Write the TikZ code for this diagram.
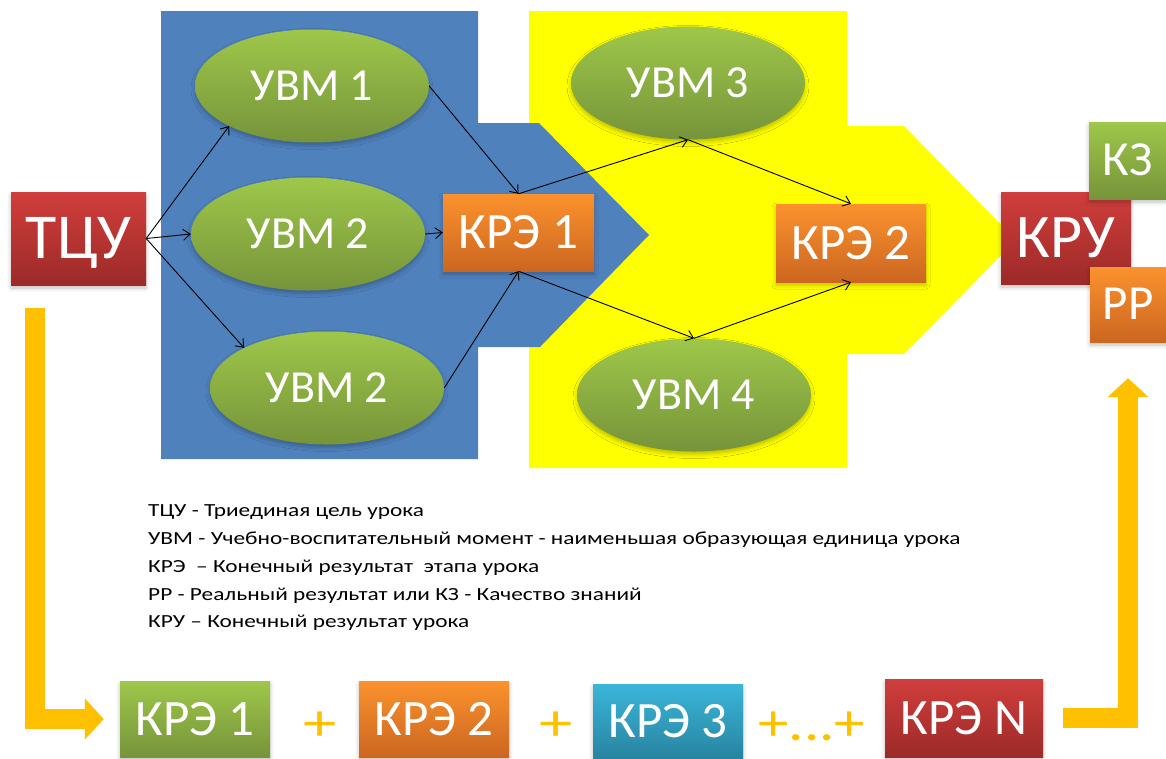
\documentclass[tikz,border=0pt]{standalone}
\usepackage{fontspec}
\setmainfont{Carlito}
\usepackage{tikz}
\usetikzlibrary{shapes,arrows.meta,positioning,shadows.blur}

\definecolor{panelblue}{RGB}{79,129,189}
\definecolor{panelyellow}{RGB}{255,255,0}
\definecolor{flowamber}{RGB}{255,192,0}
\definecolor{greentop}{RGB}{158,199,74}
\definecolor{greenbot}{RGB}{118,148,58}
\definecolor{redtop}{RGB}{208,62,60}
\definecolor{redbot}{RGB}{156,42,40}
\definecolor{orangetop}{RGB}{251,146,46}
\definecolor{orangebot}{RGB}{204,102,32}
\definecolor{tealtop}{RGB}{58,182,218}
\definecolor{tealbot}{RGB}{40,132,160}

\newcommand{\hstretch}[2][1.26]{\scalebox{#1}[1]{#2}}

\tikzset{
  softshadow/.style={blur shadow={shadow xshift=0pt, shadow yshift=-3pt, shadow blur radius=4pt, shadow opacity=25}},
  bigtext/.style={font=\fontsize{#1}{#1}\selectfont, text height={0.632*#1pt}, text depth=0pt},
  umellipse/.style={ellipse, top color=greentop, bottom color=greenbot, text=white, inner sep=0pt,
    minimum width=234pt, minimum height=113pt, bigtext=46, softshadow},
  resbox/.style={rectangle, text=white, inner sep=0pt, minimum width=150pt, minimum height=77pt,
    bigtext=51, softshadow},
  redbox/.style={resbox, top color=redtop, bottom color=redbot},
  orangebox/.style={resbox, top color=orangetop, bottom color=orangebot},
  greenbox/.style={resbox, top color=greentop, bottom color=greenbot},
  tealbox/.style={resbox, top color=tealtop, bottom color=tealbot},
  plussign/.style={text=flowamber, inner sep=0pt, bigtext=52},
  legendline/.style={anchor=base west, inner sep=0pt, font=\fontsize{18.5}{28}\selectfont},
  flowarrow/.style={draw=flowamber, line width=20pt, line join=miter,
    -{Triangle[width=40pt,length=19pt]}},
  thinarrow/.style={-{Straight Barb[length=7pt,width=11pt]}, black, line width=0.9pt}
}

\begin{document}
\begin{tikzpicture}[x=1pt,y=-1pt]
  \useasboundingbox (0,0) rectangle (1166,758);

  % stage panels
  \fill[panelyellow] (529,11) -- (847,11) -- (847,126) -- (904,126) -- (1016,240) -- (904,354)
    -- (847,354) -- (847,468) -- (529,468) -- cycle;
  \fill[panelblue] (161,11) -- (478,11) -- (478,123) -- (539,123) -- (649,235) -- (540,347)
    -- (478,347) -- (478,459) -- (161,459) -- cycle;

  % lesson goal and educational moments
  \node[redbox, minimum width=135pt, minimum height=93pt, bigtext=64] (tcu) at (78.5,238.5) {ТЦУ};
  \node[umellipse] (uvm1) at (312,86) {УВМ 1};
  \node[umellipse] (uvm2) at (308,234) {УВМ 2};
  \node[umellipse] (uvm2b) at (327,388) {УВМ 2};
  \node[orangebox, minimum width=151pt] (kre1) at (518.5,232.5) {КРЭ 1};
  \node[umellipse] (uvm3) at (688,83) {УВМ 3};
  \node[umellipse] (uvm4) at (694,395) {УВМ 4};
  \node[orangebox, minimum height=78pt] (kre2) at (851,243) {КРЭ 2};

  % lesson result
  \node[redbox, minimum width=130pt, minimum height=92pt, bigtext=62] (kru) at (1066,238) {КРУ};
  \node[greenbox, minimum width=77pt, bigtext=49] (kz) at (1127.5,160.5) {КЗ};
  \node[orangebox, minimum width=76pt, minimum height=75pt, bigtext=49] (rr) at (1128,304.5) {РР};

  \draw[thinarrow] (tcu.east) -- (uvm1.south west);
  \draw[thinarrow] (tcu.east) -- (uvm2.west);
  \draw[thinarrow] (tcu.east) -- (uvm2b.north west);
  \draw[thinarrow] (uvm1.east) -- (kre1.north);
  \draw[thinarrow] (uvm2.east) -- (kre1.west);
  \draw[thinarrow] (uvm2b.east) -- (kre1.south);
  \draw[thinarrow] (kre1.north) -- (uvm3.south);
  \draw[thinarrow] (uvm3.south) -- (kre2.north);
  \draw[thinarrow] (kre1.south) -- (uvm4.north);
  \draw[thinarrow] (uvm4.north) -- (kre2.south);

  % legend
  \foreach \i/\txt in {0/{ТЦУ - Триединая цель урока},
      1/{УВМ - Учебно-воспитательный момент - наименьшая образующая единица урока},
      2/{КРЭ \ – Конечный результат \ этапа урока},
      3/{РР - Реальный результат или КЗ - Качество знаний},
      4/{КРУ – Конечный результат урока}}
    \node[legendline] (legend\i) at (148,516.7+27.8*\i) {\hstretch{\txt}};

  % sum of stage results
  \node[greenbox, minimum height=76pt] (sum1) at (195,719) {КРЭ 1};
  \node[plussign] (plus1) at (320,724) {\hstretch[1.28]{+}};
  \node[orangebox, minimum height=76pt] (sum2) at (434,719) {КРЭ 2};
  \node[plussign] (plus2) at (556,724) {\hstretch[1.28]{+}};
  \node[tealbox, minimum height=74pt] (sum3) at (668,721) {КРЭ 3};
  \node[plussign] (plus3) at (812,724) {\hstretch[1.17]{+...+}};
  \node[redbox, minimum width=158pt, minimum height=78pt] (sumN) at (964,718) {КРЭ N};

  \draw[flowarrow] ([xshift=-43.5pt,yshift=-23pt]tcu.south) |- ([xshift=-16pt]sum1.west);
  \draw[flowarrow] ([xshift=20pt]sumN.east) -| ([yshift=-36pt]rr.south);
\end{tikzpicture}
\end{document}
